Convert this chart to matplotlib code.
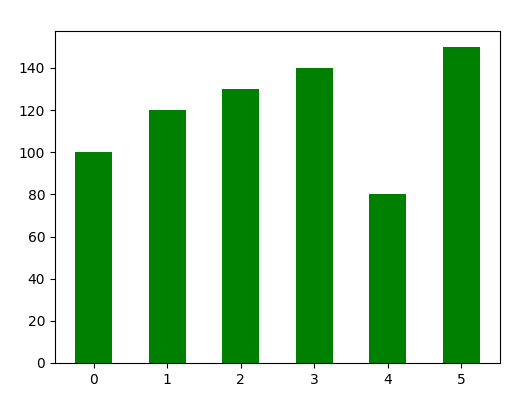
import matplotlib
matplotlib.use("Agg")
import matplotlib.pyplot as plt

categories = [0, 1, 2, 3, 4, 5]
values = [100, 120, 130, 140, 80, 150]

fig = plt.figure(figsize=(5.06, 4.07), dpi=100)
ax = fig.add_axes([55 / 506, 1 - 363 / 407, 445 / 506, 332 / 407])
ax.bar(categories, values, width=0.5, color="green")
ax.set_xticks(categories)
fig.savefig("out.png", dpi=100)
